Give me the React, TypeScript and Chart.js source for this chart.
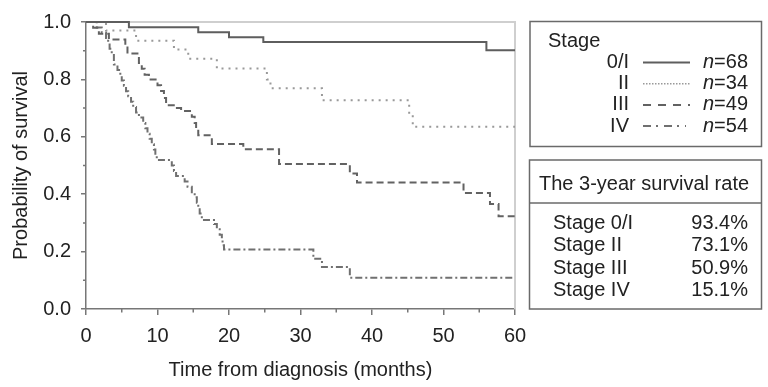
import { useEffect, useRef } from 'react';
import { Chart, registerables } from 'chart.js';
Chart.register(...registerables);

// ---- data ----
const stageLabels = ['0/I', 'II', 'III', 'IV'];
const stageN = [68, 34, 49, 54];
const rateLabels = ['Stage 0/I', 'Stage II', 'Stage III', 'Stage IV'];
const rateValues = ['93.4%', '73.1%', '50.9%', '15.1%'];
const xTickValues = [0, 10, 20, 30, 40, 50, 60];
const yTickValues = [0, 0.2, 0.4, 0.6, 0.8, 1.0];

const stage0Time = [0, 6.0, 15.7, 20.0, 24.8, 56.0, 60];
const stage0Surv = [1.0, 0.982, 0.964, 0.947, 0.93, 0.902, 0.902];

const stage2Time = [0, 2.8, 7.0, 12.3, 14.3, 18.3, 25.3, 25.8, 33.0, 45.2, 45.7, 60];
const stage2Surv = [1.0, 0.97, 0.935, 0.904, 0.872, 0.838, 0.8, 0.769, 0.727, 0.68, 0.635, 0.635];

const stage3Time = [0, 1.0, 1.8, 3.2, 5.5, 5.8, 7.4, 7.8, 8.2, 8.8, 10.0, 10.5, 10.9, 11.2, 12.5, 13.3, 14.8, 15.2, 15.4, 15.7, 17.6, 22.0, 27.0, 36.9, 37.9, 52.8, 56.5, 57.7, 60];
const stage3Surv = [1.0, 0.98, 0.959, 0.939, 0.918, 0.89, 0.857, 0.837, 0.816, 0.8, 0.78, 0.76, 0.735, 0.71, 0.7, 0.69, 0.67, 0.648, 0.627, 0.605, 0.575, 0.557, 0.505, 0.472, 0.441, 0.404, 0.366, 0.323, 0.323];

const stage4Time = [0, 1.5, 2.2, 2.8, 3.1, 3.3, 3.6, 3.9, 4.4, 4.8, 5.0, 5.3, 5.6, 5.9, 6.3, 6.6, 7.0, 7.4, 8.0, 8.3, 8.6, 8.9, 9.2, 9.5, 9.7, 9.9, 12.0, 12.3, 12.6, 13.8, 14.2, 14.8, 15.2, 15.5, 15.7, 15.9, 16.2, 17.9, 18.3, 18.7, 19.0, 19.1, 19.3, 31.8, 33.0, 36.9, 60];
const stage4Surv = [1.0, 0.981, 0.963, 0.944, 0.926, 0.907, 0.889, 0.852, 0.833, 0.815, 0.796, 0.778, 0.759, 0.741, 0.722, 0.704, 0.685, 0.667, 0.648, 0.63, 0.611, 0.593, 0.574, 0.556, 0.537, 0.519, 0.5, 0.481, 0.463, 0.444, 0.426, 0.407, 0.389, 0.37, 0.352, 0.333, 0.31, 0.296, 0.278, 0.259, 0.241, 0.222, 0.207, 0.175, 0.146, 0.109, 0.109];

// ---- styles ----
const FONT = '"Liberation Sans", Arial, Helvetica, sans-serif';
const FS = 20;
const TEXT = '#222';
const AXIS = '#777';
const lineColors = ['#5e5e5e', '#999', '#626262', '#707070'];
const lineDashes: number[][] = [[], [2, 5], [7, 4], [7, 3, 2, 3]];
const legendDashes: number[][] = [[], [1.5, 1.5], [8, 7], [8, 5, 2, 6]];

const pts = (t: number[], s: number[]) => t.map((x, i) => ({ x, y: s[i] }));

const extrasPlugin = {
  id: 'extras',
  beforeDatasetsDraw(chart: any) {
    const { ctx, chartArea: a } = chart;
    ctx.save();
    ctx.strokeStyle = '#cfcfcf';
    ctx.lineWidth = 2;
    ctx.beginPath();
    ctx.moveTo(a.left, a.top);
    ctx.lineTo(a.right, a.top);
    ctx.lineTo(a.right, a.bottom);
    ctx.stroke();
    // minor ticks
    ctx.strokeStyle = AXIS;
    ctx.lineWidth = 1.5;
    const xs = chart.scales.x, ys = chart.scales.y;
    ctx.beginPath();
    for (let v = 5; v < 60; v += 10) {
      const px = xs.getPixelForValue(v);
      ctx.moveTo(px, a.bottom);
      ctx.lineTo(px, a.bottom + 3.5);
    }
    for (let v = 0.1; v < 1; v += 0.2) {
      const py = ys.getPixelForValue(v);
      ctx.moveTo(a.left - 3, py);
      ctx.lineTo(a.left, py);
    }
    ctx.stroke();
    ctx.restore();
  },
  afterDraw(chart: any) {
    const ctx: CanvasRenderingContext2D = chart.ctx;
    ctx.save();
    // legend box
    ctx.strokeStyle = '#6a6a6a';
    ctx.lineWidth = 1.5;
    ctx.strokeRect(530, 21.5, 231.5, 125);
    ctx.fillStyle = TEXT;
    ctx.textBaseline = 'alphabetic';
    ctx.font = `${FS}px ${FONT}`;
    ctx.textAlign = 'left';
    ctx.fillText('Stage', 548, 46.5);
    stageLabels.forEach((lab, i) => {
      const by = 68 + i * 21.2;
      ctx.font = `${FS}px ${FONT}`;
      ctx.textAlign = 'right';
      ctx.fillStyle = TEXT;
      ctx.fillText(lab, 629, by);
      ctx.textAlign = 'left';
      ctx.font = `italic ${FS}px ${FONT}`;
      ctx.fillText('n', 703, by);
      const w = ctx.measureText('n').width;
      ctx.font = `${FS}px ${FONT}`;
      ctx.fillText('=' + stageN[i], 703 + w, by);
      ctx.save();
      ctx.strokeStyle = lineColors[i];
      ctx.lineWidth = i === 1 ? 1.5 : 2;
      ctx.setLineDash(legendDashes[i]);
      ctx.beginPath();
      ctx.moveTo(643, by - 5.5);
      ctx.lineTo(i === 3 ? 686 : 690, by - 5.5);
      ctx.stroke();
      ctx.restore();
    });
    // rate table
    ctx.strokeStyle = '#6a6a6a';
    ctx.lineWidth = 1.5;
    ctx.strokeRect(529.5, 160, 232, 149);
    ctx.beginPath();
    ctx.moveTo(529.5, 203);
    ctx.lineTo(761.5, 203);
    ctx.stroke();
    ctx.fillStyle = TEXT;
    ctx.font = `${FS}px ${FONT}`;
    ctx.textAlign = 'left';
    ctx.fillText('The 3-year survival rate', 539, 189.5);
    rateLabels.forEach((lab, i) => {
      const by = 229 + i * 22.3;
      ctx.textAlign = 'left';
      ctx.fillText(lab, 553, by);
      ctx.textAlign = 'right';
      ctx.fillText(rateValues[i], 748, by);
    });
    ctx.restore();
  },
};

export default function App() {
  const ref = useRef<HTMLCanvasElement>(null);
  useEffect(() => {
    const datasets = [
      pts(stage0Time, stage0Surv),
      pts(stage2Time, stage2Surv),
      pts(stage3Time, stage3Surv),
      pts(stage4Time, stage4Surv),
    ].map((data, i) => ({
      label: 'Stage ' + stageLabels[i],
      data,
      stepped: true as const,
      borderColor: lineColors[i],
      borderWidth: 2,
      borderDash: lineDashes[i],
      pointRadius: 0,
      fill: false,
      clip: 6,
    }));
    const chart = new Chart(ref.current!, {
      type: 'line',
      data: { datasets },
      options: {
        animation: false,
        responsive: false,
        layout: { padding: { top: 21, right: 253, left: 0, bottom: 0 } },
        plugins: { legend: { display: false }, tooltip: { enabled: false } },
        scales: {
          x: {
            type: 'linear',
            min: 0,
            max: 60,
            afterBuildTicks: (s: any) => { s.ticks = xTickValues.map((value) => ({ value })); },
            ticks: { font: { family: FONT, size: FS }, color: TEXT, padding: 9, maxRotation: 0, callback: (v: any) => String(v) },
            grid: { drawOnChartArea: false, tickLength: 6, color: AXIS, lineWidth: 1.5 },
            border: { color: AXIS, width: 1.5 },
            title: { display: true, text: 'Time from diagnosis (months)', font: { family: FONT, size: FS }, color: TEXT, padding: { top: 0, bottom: 5 } },
            afterFit: (s: any) => { s.height = 78; },
          },
          y: {
            type: 'linear',
            min: 0,
            max: 1,
            afterBuildTicks: (s: any) => { s.ticks = yTickValues.map((value) => ({ value })); },
            ticks: { font: { family: FONT, size: FS }, color: TEXT, padding: 10, callback: (v: any) => Number(v).toFixed(1) },
            grid: { drawOnChartArea: false, tickLength: 5, color: AXIS, lineWidth: 1.5 },
            border: { color: AXIS, width: 1.5 },
            title: { display: true, text: 'Probability of survival', font: { family: FONT, size: FS }, color: TEXT, padding: { top: 9, bottom: 0 } },
            afterFit: (s: any) => { s.width = 86; },
          },
        },
      },
      plugins: [extrasPlugin],
    } as any);
    return () => chart.destroy();
  }, []);
  return (
    <div style={{ position: 'fixed', left: 0, top: 0, width: 768, height: 387, background: '#fff' }}>
      <canvas ref={ref} width={768} height={387} style={{ display: 'block' }} />
    </div>
  );
}
